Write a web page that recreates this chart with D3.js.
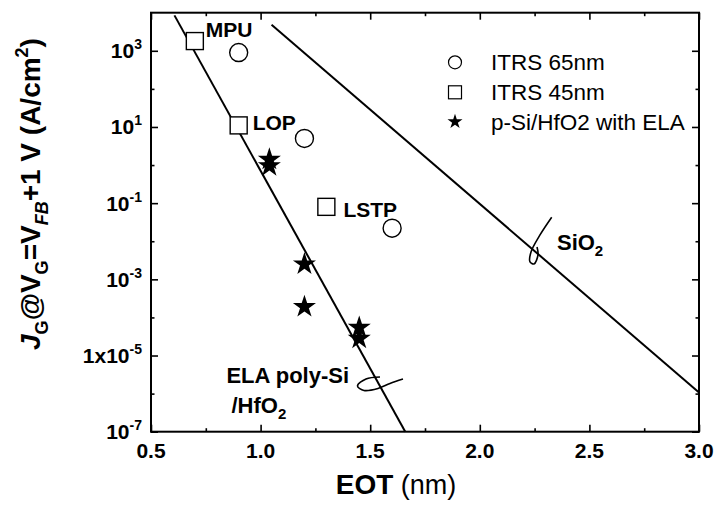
<!DOCTYPE html>
<html><head><meta charset="utf-8">
<script src="https://cdn.jsdelivr.net/npm/d3@7"></script>
<style>
html,body{margin:0;padding:0;background:#fff;}
svg{display:block;font-family:"Liberation Sans",Arial,Helvetica,sans-serif;}
</style></head>
<body>
<svg id="chart" width="720" height="505"></svg>
<script>
// ---- data ----
const xDomain = [0.5, 3.0];
const yDomain = [1e-7, 1e4];
const xMajorTicks = [0.5, 1.0, 1.5, 2.0, 2.5, 3.0];
const xMinorTicks = [0.75, 1.25, 1.75, 2.25, 2.75];
const xTickLabels = ["0.5", "1.0", "1.5", "2.0", "2.5", "3.0"];
const yMajorExps = [-7, -5, -3, -1, 1, 3];
const yMinorExps = [-6, -4, -2, 0, 2];
const yTickPrefix = ["10", "1x10", "10", "10", "10", "10"];
const yTickSup = ["-7", "-5", "-3", "-1", "1", "3"];

const itrs65EOT = [0.9, 1.2, 1.6];
const itrs65J = [900, 5, 0.022];
const itrs45EOT = [0.7, 0.9, 1.3];
const itrs45J = [1800, 11, 0.08];
const elaEOT = [1.04, 1.04, 1.2, 1.2, 1.45, 1.45];
const elaJ = [1.4, 0.95, 0.0025, 1.9e-4, 5.4e-5, 2.8e-5];

const elaFitEOT = [0.607, 1.66];
const elaFitJ = [8500, 1e-7];
const sio2FitEOT = [1.05, 3.0];
const sio2FitJ = [4800, 1.07e-6];

const legendLabels = ["ITRS 65nm", "ITRS 45nm", "p-Si/HfO2 with ELA"];
const pointLabels = ["MPU", "LOP", "LSTP"];
const pointLabelEOT = [0.75, 0.964, 1.378];
const pointLabelLogJ = [3.354, 0.921, -1.354];

// annotation curls in (EOT, log10 J)
const elaCurlEOT = [1.5447, 1.4808, 1.4421, 1.4717, 1.5356, 1.5903, 1.6496];
const elaCurlLogJ = [-5.562, -5.614, -5.798, -5.916, -5.864, -5.732, -5.614];
const sio2CurlEOT = [2.328, 2.2746, 2.2336, 2.229, 2.2473, 2.2655, 2.261];
const sio2CurlLogJ = [-1.370, -1.835, -2.281, -2.543, -2.596, -2.360, -2.150];

// ---- layout ----
const L = 151, R = 699, T = 12.7, B = 431.7;
const svg = d3.select("#chart");
const x = d3.scaleLinear().domain(xDomain).range([L, R]);
const y = d3.scaleLog().domain(yDomain).range([B, T]);
const lj = v => y(Math.pow(10, v));

const axisStyle = g => { g.select(".domain").remove(); g.selectAll("line").attr("stroke", "#000").attr("stroke-width", 1.6); g.selectAll("text").remove(); };

// ticks (inward) on all four sides
svg.append("g").attr("transform", `translate(0,${B})`).call(d3.axisBottom(x).tickValues(xMajorTicks).tickSize(-7)).call(axisStyle);
svg.append("g").attr("transform", `translate(0,${B})`).call(d3.axisBottom(x).tickValues(xMinorTicks).tickSize(-3.5)).call(axisStyle);
svg.append("g").attr("transform", `translate(0,${T})`).call(d3.axisTop(x).tickValues(xMajorTicks).tickSize(-7)).call(axisStyle);
svg.append("g").attr("transform", `translate(0,${T})`).call(d3.axisTop(x).tickValues(xMinorTicks).tickSize(-3.5)).call(axisStyle);
const yMaj = yMajorExps.map(e => Math.pow(10, e));
const yMin = yMinorExps.map(e => Math.pow(10, e));
svg.append("g").attr("transform", `translate(${L},0)`).call(d3.axisLeft(y).tickValues(yMaj).tickSize(-7)).call(axisStyle);
svg.append("g").attr("transform", `translate(${L},0)`).call(d3.axisLeft(y).tickValues(yMin).tickSize(-3.5)).call(axisStyle);
svg.append("g").attr("transform", `translate(${R},0)`).call(d3.axisRight(y).tickValues(yMaj).tickSize(-7)).call(axisStyle);
svg.append("g").attr("transform", `translate(${R},0)`).call(d3.axisRight(y).tickValues(yMin).tickSize(-3.5)).call(axisStyle);

// frame
svg.append("rect").attr("x", L).attr("y", T).attr("width", R - L).attr("height", B - T)
  .attr("fill", "none").attr("stroke", "#000").attr("stroke-width", 2);

// x tick labels
svg.append("g").selectAll("text").data(xMajorTicks).join("text")
  .attr("x", d => x(d)).attr("y", B + 26).attr("text-anchor", "middle")
  .attr("font-size", 21).attr("font-weight", "bold").text((d, i) => xTickLabels[i]);

// y tick labels
const yl = svg.append("g").selectAll("text").data(yMajorExps).join("text")
  .attr("x", L - 9).attr("y", d => lj(d) + 7.5).attr("text-anchor", "end")
  .attr("font-size", 21).attr("font-weight", "bold");
yl.append("tspan").text((d, i) => yTickPrefix[i]);
yl.append("tspan").attr("font-size", 14).attr("dy", -9).text((d, i) => yTickSup[i]);

// fit lines
const line = d3.line().x(d => x(d[0])).y(d => y(d[1]));
svg.append("path").datum(elaFitEOT.map((e, i) => [e, elaFitJ[i]])).attr("d", line)
  .attr("fill", "none").attr("stroke", "#000").attr("stroke-width", 2);
svg.append("path").datum(sio2FitEOT.map((e, i) => [e, sio2FitJ[i]])).attr("d", line)
  .attr("fill", "none").attr("stroke", "#000").attr("stroke-width", 2);

// curls
const curl = d3.line().x(d => x(d[0])).y(d => lj(d[1])).curve(d3.curveCatmullRom);
svg.append("path").datum(elaCurlEOT.map((e, i) => [e, elaCurlLogJ[i]])).attr("d", curl)
  .attr("fill", "none").attr("stroke", "#000").attr("stroke-width", 1.6);
svg.append("path").datum(sio2CurlEOT.map((e, i) => [e, sio2CurlLogJ[i]])).attr("d", curl)
  .attr("fill", "none").attr("stroke", "#000").attr("stroke-width", 1.6);

// markers
svg.append("g").selectAll("circle").data(itrs65EOT).join("circle")
  .attr("cx", d => x(d)).attr("cy", (d, i) => y(itrs65J[i])).attr("r", 9)
  .attr("fill", "#fff").attr("stroke", "#000").attr("stroke-width", 1.4);
svg.append("g").selectAll("rect").data(itrs45EOT).join("rect")
  .attr("x", d => x(d) - 8.5).attr("y", (d, i) => y(itrs45J[i]) - 8.5).attr("width", 17).attr("height", 17)
  .attr("fill", "#fff").attr("stroke", "#000").attr("stroke-width", 1.4);
const star = d3.symbol().type(d3.symbolStar).size(165);
svg.append("g").selectAll("path").data(elaEOT).join("path")
  .attr("transform", (d, i) => `translate(${x(d)},${y(elaJ[i])})`).attr("d", star).attr("fill", "#000");

// point labels
svg.append("g").selectAll("text").data(pointLabels).join("text")
  .attr("x", (d, i) => x(pointLabelEOT[i])).attr("y", (d, i) => lj(pointLabelLogJ[i]))
  .attr("font-size", 21).attr("font-weight", "bold").text(d => d);

// SiO2 label
const sio = svg.append("text").attr("x", x(2.352)).attr("y", lj(-2.228)).attr("font-size", 22).attr("font-weight", "bold");
sio.append("tspan").text("SiO");
sio.append("tspan").attr("font-size", 15).attr("dy", 6).text("2");

// ELA poly-Si label
svg.append("text").attr("x", x(0.844)).attr("y", lj(-5.726)).attr("font-size", 22).attr("font-weight", "bold").text("ELA poly-Si");
const hf = svg.append("text").attr("x", x(0.867)).attr("y", lj(-6.514)).attr("font-size", 22).attr("font-weight", "bold");
hf.append("tspan").text("/HfO");
hf.append("tspan").attr("font-size", 15).attr("dy", 6).text("2");

// legend
const legY = [62.3, 92.3, 121.7];
const lg = svg.append("g");
lg.append("circle").attr("cx", 455).attr("cy", legY[0]).attr("r", 6.5).attr("fill", "#fff").attr("stroke", "#000").attr("stroke-width", 1.2);
lg.append("rect").attr("x", 448.5).attr("y", legY[1] - 6.5).attr("width", 13).attr("height", 13).attr("fill", "#fff").attr("stroke", "#000").attr("stroke-width", 1.2);
lg.append("path").attr("transform", `translate(455,${legY[2]})`).attr("d", d3.symbol().type(d3.symbolStar).size(70)).attr("fill", "#000");
lg.selectAll("text").data(legendLabels).join("text")
  .attr("x", 491).attr("y", (d, i) => legY[i] + 8).attr("font-size", 22.5).text(d => d);

// x title
const xt = svg.append("text").attr("x", 396).attr("y", 494).attr("text-anchor", "middle");
xt.append("tspan").attr("font-size", 28).attr("font-weight", "bold").text("EOT");
xt.append("tspan").attr("font-size", 27).text(" (nm)");

// y title
const yt = svg.append("text").attr("transform", "translate(40,194) rotate(-90)").attr("text-anchor", "middle")
  .attr("font-size", 28).attr("font-weight", "bold");
yt.append("tspan").attr("font-style", "italic").text("J");
yt.append("tspan").attr("font-size", 18).attr("dy", 8).text("G");
yt.append("tspan").attr("dy", -8).text("@V");
yt.append("tspan").attr("font-size", 18).attr("dy", 8).text("G");
yt.append("tspan").attr("dy", -8).text("=V");
yt.append("tspan").attr("font-size", 18).attr("font-style", "italic").attr("dy", 8).text("FB");
yt.append("tspan").attr("dy", -8).text("+1 V (A/cm");
yt.append("tspan").attr("font-size", 18).attr("dy", -12).text("2");
yt.append("tspan").attr("dy", 12).text(")");
</script>
</body></html>
